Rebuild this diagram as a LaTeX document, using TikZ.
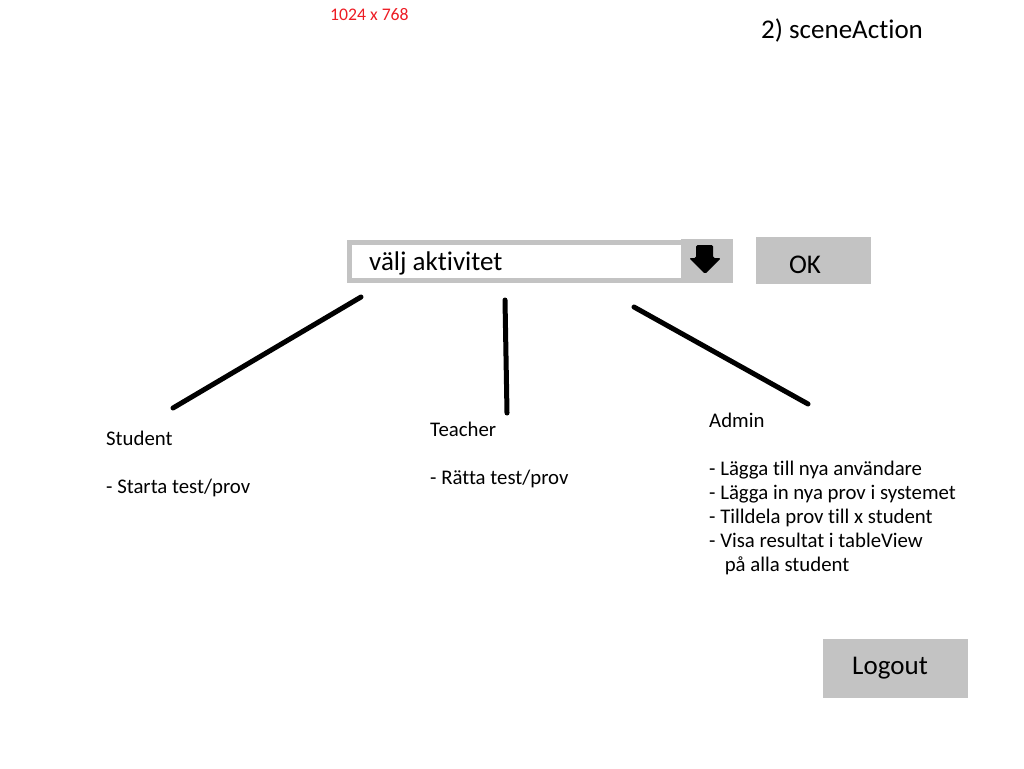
\documentclass[tikz,border=0pt]{standalone}
\usepackage{fontspec}
\setmainfont{Carlito}[Ligatures=NoCommon]
\usepackage{tikz}
\definecolor{btnGray}{RGB}{195,195,195}
\definecolor{sizeRed}{RGB}{237,28,36}
\tikzset{
  lbl/.style={anchor=base west, inner sep=0pt, font=\fontsize{20.8}{24}\selectfont, align=left},
  big/.style={inner sep=0pt, font=\fontsize{27}{30}\selectfont},
  btn/.style={fill=btnGray, draw=none},
  stroke/.style={line width=5pt, line cap=round}
}
\begin{document}
\begin{tikzpicture}[x=1pt, y=-1pt]
  \useasboundingbox (0,0) rectangle (1024,768);

  \node [anchor=west, inner sep=0pt, text=sizeRed, font=\fontsize{17.7}{20}\selectfont] (size) at (330,15) {1024 x 768};
  \node [big, anchor=west] (title) at (761,30) {2) sceneAction};

  \fill [btnGray] (347,240) rectangle (681,283);
  \fill [white] (352,245) rectangle (681,278);
  \node [big, anchor=west] (combo) at (369,263) {välj aktivitet};
  \fill [btn] (681,239) rectangle (733,283);
  \fill [black, rounded corners=1.5pt] (696,245) -- (713,245) -- (713,258) -- (721,258) -- (705,274) -- (689,258) -- (696,258) -- cycle;
  \fill [btn] (756,237) rectangle (871,284);
  \node [big] (ok) at (805,265) {OK};

  \coordinate (s1) at (361,297);
  \coordinate (s2) at (173,408);
  \coordinate (t1) at (505,300);
  \coordinate (t2) at (507,413);
  \coordinate (a1) at (634,307);
  \coordinate (a2) at (808,404);
  \draw [stroke] (s1) -- (s2);
  \draw [stroke] (t1) -- (t2);
  \draw [stroke] (a1) -- (a2);

  % base west sits on the last line
  \node [lbl] (student) at (106,493) {Student\\\\- Starta test/prov};
  \node [lbl] (teacher) at (430,484) {Teacher\\\\- Rätta test/prov};
  \node [lbl] (admin) at (709,571) {Admin\\\\- Lägga till nya användare\\- Lägga in nya prov i systemet\\- Tilldela prov till x student\\- Visa resultat i tableView\\\hspace{0.75em}på alla student};

  \fill [btn] (823,639) rectangle (968,698);
  \node [big] (logout) at (890,668) {Logout};
\end{tikzpicture}
\end{document}
